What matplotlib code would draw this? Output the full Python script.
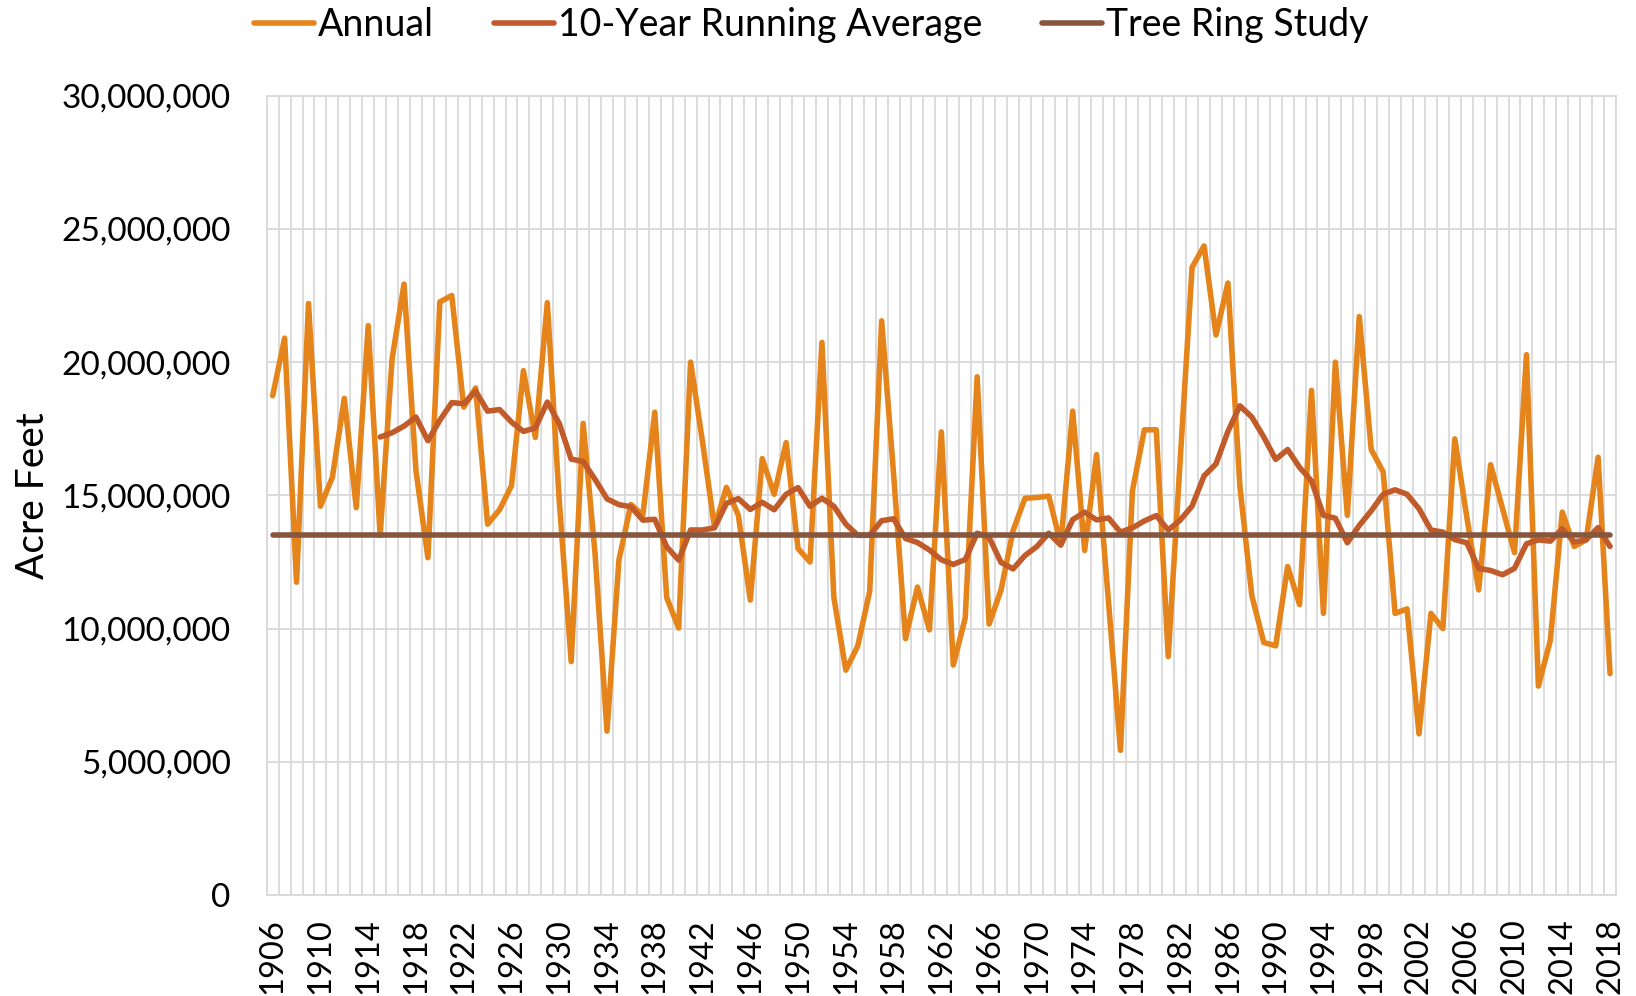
import matplotlib
matplotlib.use("Agg")
import matplotlib.pyplot as plt
from matplotlib.ticker import FuncFormatter, FixedLocator
import numpy as np

plt.rcParams['font.family'] = ['Lato', 'DejaVu Sans']

years = list(range(1906, 2019))

annual_maf = [
    18.74, 20.90, 11.74, 22.20, 14.59, 15.68, 18.64, 14.54, 21.37, 13.50,
    20.12, 22.93, 15.93, 12.66, 22.26, 22.50, 18.31, 19.03, 13.92, 14.46,
    15.36, 19.68, 17.17, 22.23, 14.80, 8.76, 17.70, 12.80, 6.15, 12.58,
    14.66, 14.25, 18.12, 11.16, 10.02, 20.00, 17.00, 13.80, 15.30, 14.25,
    11.07, 16.38, 15.04, 16.98, 13.00, 12.50, 20.74, 11.16, 8.44, 9.35,
    11.40, 21.55, 15.80, 9.62, 11.56, 9.95, 17.38, 8.63, 10.40, 19.45,
    10.17, 11.45, 13.67, 14.89, 14.92, 14.97, 13.17, 18.16, 12.93, 16.53,
    11.00, 5.43, 15.17, 17.46, 17.46, 8.95, 16.30, 23.56, 24.36, 21.02,
    22.97, 15.34, 11.24, 9.48, 9.35, 12.33, 10.90, 18.94, 10.57, 20.00,
    14.25, 21.71, 16.72, 15.88, 10.57, 10.74, 6.05, 10.57, 10.00, 17.12,
    14.20, 11.45, 16.15, 14.50, 12.85, 20.28, 7.84, 9.56, 14.37, 13.08,
    13.33, 16.43, 8.31,
]

avg_start_year = 1915
running_avg_maf = [
    17.19, 17.35, 17.60, 17.94, 17.05, 17.82, 18.48, 18.44, 18.91, 18.16,
    18.22, 17.75, 17.40, 17.53, 18.50, 17.70, 16.36, 16.27, 15.60, 14.87,
    14.65, 14.57, 14.07, 14.10, 13.07, 12.57, 13.70, 13.70, 13.78, 14.70,
    14.88, 14.47, 14.74, 14.46, 15.04, 15.29, 14.59, 14.89, 14.59, 13.92,
    13.50, 13.50, 14.05, 14.12, 13.38, 13.23, 12.95, 12.58, 12.41, 12.59,
    13.58, 13.42, 12.48, 12.24, 12.74, 13.08, 13.58, 13.13, 14.09, 14.37,
    14.08, 14.15, 13.62, 13.78, 14.04, 14.24, 13.70, 14.07, 14.60, 15.73,
    16.18, 17.40, 18.36, 17.94, 17.19, 16.35, 16.72, 16.05, 15.54, 14.25,
    14.14, 13.22, 13.87, 14.42, 15.04, 15.21, 15.04, 14.50, 13.70, 13.62,
    13.34, 13.22, 12.26, 12.18, 12.02, 12.26, 13.18, 13.33, 13.28, 13.75,
    13.25, 13.33, 13.79, 13.08,
]

tree_ring_maf = 13.5

y_ticks = [0, 5_000_000, 10_000_000, 15_000_000, 20_000_000, 25_000_000, 30_000_000]
label_years = list(range(1906, 2019, 4))

c_annual = '#E4841A'
c_avg = '#C15B2A'
c_tree = '#87563F'
c_grid = '#D9D9D9'

n = len(years)
x = np.arange(n)
annual = np.array(annual_maf) * 1e6
avg_x = np.arange(years.index(avg_start_year), n)
avg = np.array(running_avg_maf) * 1e6
tree = np.full(n, tree_ring_maf * 1e6)

fig = plt.figure(figsize=(16.36, 9.96), dpi=100)
ax = fig.add_axes([266.7 / 1636, 1 - 895 / 996, (1616 - 266.7) / 1636, (895 - 95.7) / 996])

lw = 4.0
ax.plot(x, annual, color=c_annual, lw=lw, solid_joinstyle='round', solid_capstyle='round', label='Annual', zorder=3)
ax.plot(avg_x, avg, color=c_avg, lw=lw, solid_joinstyle='round', solid_capstyle='round', label='10-Year Running Average', zorder=4)
ax.plot(x, tree, color=c_tree, lw=lw, solid_capstyle='round', label='Tree Ring Study', zorder=5)

ax.set_xlim(-0.5, n - 0.5)
ax.set_ylim(0, 30_000_000)

ax.yaxis.set_major_locator(FixedLocator(y_ticks))
ax.yaxis.set_major_formatter(FuncFormatter(lambda v, p: f"{int(v):,}"))
ax.set_xticks([years.index(y) for y in label_years])
ax.set_xticklabels([str(y) for y in label_years], rotation=90)

ax.grid(False)
for v in y_ticks:
    ax.axhline(v, color=c_grid, lw=1.3, zorder=1)
for b in np.arange(n + 1) - 0.5:
    ax.axvline(b, color=c_grid, lw=1.3, zorder=1)

for s in ax.spines.values():
    s.set_color(c_grid)
    s.set_linewidth(1.3)

ax.tick_params(axis='both', which='both', length=0, colors='black')
ax.tick_params(axis='y', labelsize=24, pad=26)
ax.tick_params(axis='x', labelsize=23.5, pad=17)

ax.set_ylabel('Acre Feet', fontsize=28)
ax.yaxis.set_label_coords(-0.160, 0.5)

fig.legend(loc='center', bbox_to_anchor=(0.496, 1 - 25 / 996), ncol=3, frameon=False,
           fontsize=27, handlelength=1.6, handletextpad=0.1, columnspacing=1.6)

fig.savefig('out.png', dpi=100, facecolor='white')
